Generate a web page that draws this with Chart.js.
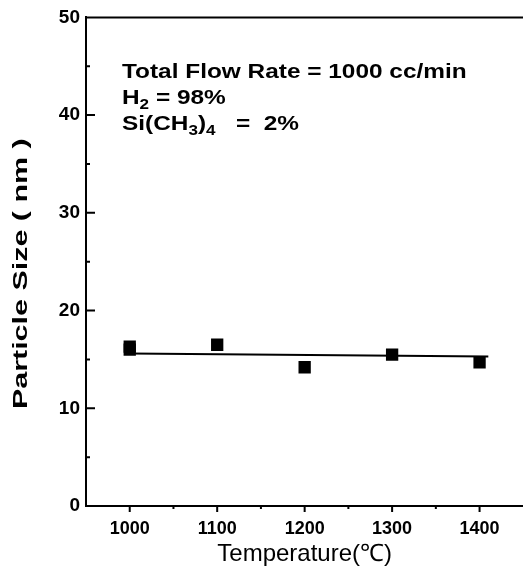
<!DOCTYPE html>
<html>
<head>
<meta charset="utf-8">
<script src="https://cdn.jsdelivr.net/npm/chart.js@4/dist/chart.umd.min.js"></script>
<style>
  html, body { margin: 0; padding: 0; background: #fff; overflow: hidden; }
  #wrap { width: 532px; height: 579px; }
</style>
</head>
<body>
<div id="wrap"><canvas id="chart"></canvas></div>
<script>
// measured points (two overlapping squares at 1000 C)
const temperatures = [1000, 1000, 1100, 1200, 1300, 1400];
const particleSize = [16.3, 16.0, 16.5, 14.2, 15.5, 14.7];

// straight fit line through the points
const fitTemps = [1000, 1410];
const fitSize = [15.6, 15.3];

const xTickLabels = [1000, 1100, 1200, 1300, 1400];
const yTickLabels = [0, 10, 20, 30, 40, 50];

// note lines, each a list of [text, subscript?]
const noteLines = [
  [['Total Flow Rate = 1000 cc/min', false]],
  [['H', false], ['2', true], [' = 98%', false]],
  [['Si(CH', false], ['3', true], [')', false], ['4', true], ['   =  2%', false]]
];
const yTitle = 'Particle Size ( nm )';

const FONT = '"Liberation Sans", Arial, sans-serif';

// ticks: y inward, x outward, plus the top border line
const frameTicks = {
  id: 'frameTicks',
  afterDraw(chart) {
    const {ctx, chartArea, scales: {x, y}} = chart;
    ctx.save();
    ctx.strokeStyle = '#000';
    ctx.lineWidth = 2;
    ctx.beginPath();
    x.ticks.forEach(t => {
      if (t.value < 1000 || t.value > 1400) return;
      const px = x.getPixelForValue(t.value);
      const len = t.value % 100 === 0 ? 6 : 3;
      ctx.moveTo(px, chartArea.bottom);
      ctx.lineTo(px, chartArea.bottom + len);
    });
    y.ticks.forEach(t => {
      if (t.value <= 0 || t.value >= 50) return;
      const py = y.getPixelForValue(t.value);
      const len = t.value % 10 === 0 ? 9 : 4;
      ctx.moveTo(chartArea.left, py);
      ctx.lineTo(chartArea.left + len, py);
    });
    ctx.moveTo(chartArea.left - 1, chartArea.top);
    ctx.lineTo(chartArea.right, chartArea.top);
    ctx.stroke();
    ctx.restore();
  }
};

// note text + stretched y title
const notes = {
  id: 'notes',
  afterDraw(chart) {
    const {ctx, chartArea} = chart;
    const stretch = 1.22;
    ctx.save();
    ctx.fillStyle = '#000';
    ctx.textBaseline = 'alphabetic';
    const x0 = chartArea.left + 36;
    const baselines = [78, 104, 130];
    noteLines.forEach((line, i) => {
      let cx = x0;
      line.forEach(([txt, sub]) => {
        ctx.font = 'bold ' + (sub ? 14 : 20) + 'px ' + FONT;
        const w = ctx.measureText(txt).width * stretch;
        ctx.save();
        ctx.translate(cx, baselines[i] + (sub ? 5 : 0));
        ctx.scale(stretch, 1);
        ctx.fillText(txt, 0, 0);
        ctx.restore();
        cx += w;
      });
    });

    ctx.font = 'bold 21px ' + FONT;
    ctx.textAlign = 'center';
    ctx.textBaseline = 'middle';
    ctx.translate(21, (chartArea.top + chartArea.bottom) / 2 + 12);
    ctx.rotate(-Math.PI / 2);
    ctx.scale(1.45, 1);
    ctx.fillText(yTitle, 0, 0);
    ctx.restore();
  }
};

new Chart(document.getElementById('chart'), {
  type: 'scatter',
  data: {
    datasets: [
      {
        type: 'line',
        data: fitTemps.map((t, i) => ({x: t, y: fitSize[i]})),
        borderColor: '#000',
        borderWidth: 2,
        pointRadius: 0,
        fill: false
      },
      {
        data: temperatures.map((t, i) => ({x: t, y: particleSize[i]})),
        pointStyle: 'rect',
        pointRadius: 8.7,
        backgroundColor: '#000',
        borderColor: '#000',
        borderWidth: 0
      }
    ]
  },
  options: {
    responsive: true,
    maintainAspectRatio: false,
    animation: false,
    layout: { padding: { top: 14, left: 0, right: 0, bottom: 0 } },
    plugins: {
      legend: { display: false },
      tooltip: { enabled: false }
    },
    scales: {
      x: {
        type: 'linear',
        min: 950,
        max: 1450,
        afterFit: scale => {
          scale.height = 73;
          scale.paddingLeft = 0;
          scale.paddingRight = 0;
        },
        grid: { display: false, drawTicks: false },
        border: { display: true, color: '#000', width: 2 },
        ticks: {
          stepSize: 50,
          padding: 12,
          autoSkip: false,
          maxRotation: 0,
          minRotation: 0,
          color: '#000',
          font: { family: FONT, size: 18, weight: 'bold' },
          callback: v => xTickLabels.includes(v) ? String(v) : ''
        },
        title: {
          display: true,
          text: 'Temperature(℃)',
          color: '#000',
          font: { family: FONT, size: 24 },
          padding: { top: 0, bottom: 10 }
        }
      },
      y: {
        min: 0,
        max: 50,
        afterFit: scale => { scale.width = 86; },
        grid: { display: false, drawTicks: false },
        border: { display: true, color: '#000', width: 2 },
        ticks: {
          stepSize: 5,
          padding: 6,
          color: '#000',
          font: { family: FONT, size: 19, weight: 'bold' },
          callback: v => yTickLabels.includes(v) ? String(v) : ''
        }
      }
    }
  },
  plugins: [frameTicks, notes]
});
</script>
</body>
</html>
